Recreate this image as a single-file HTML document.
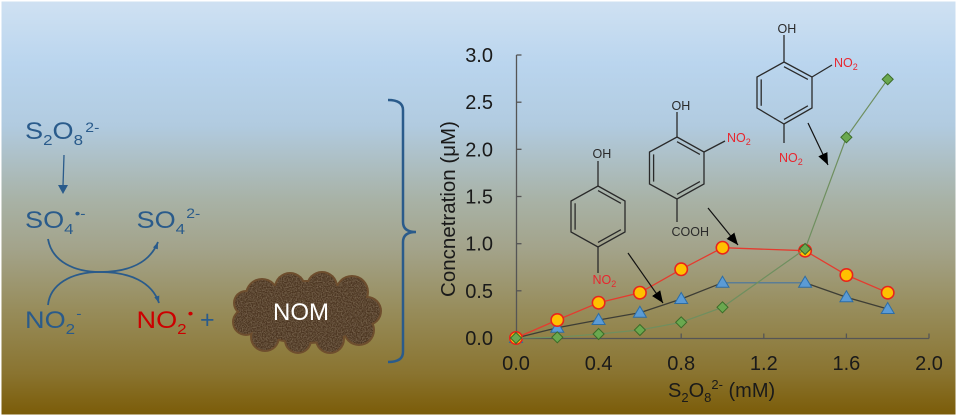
<!DOCTYPE html>
<html>
<head>
<meta charset="utf-8">
<style>
  html,body{margin:0;padding:0;background:#fff;}
  svg{display:block;}
  text{font-family:"Liberation Sans",Arial,sans-serif;}
</style>
</head>
<body>
<svg width="958" height="417" viewBox="0 0 958 417" xmlns="http://www.w3.org/2000/svg">
  <defs>
    <linearGradient id="bg" x1="0" y1="0" x2="0" y2="1">
      <stop offset="0" stop-color="#cfe1f2"/>
      <stop offset="0.15" stop-color="#bad5ee"/>
      <stop offset="0.30" stop-color="#b1cbe0"/>
      <stop offset="0.48" stop-color="#a8b2a6"/>
      <stop offset="0.60" stop-color="#a3a38a"/>
      <stop offset="0.75" stop-color="#978c5a"/>
      <stop offset="0.90" stop-color="#8a7430"/>
      <stop offset="1" stop-color="#7b5c08"/>
    </linearGradient>
    <marker id="ah" viewBox="0 0 12 10" refX="12" refY="5" markerWidth="12" markerHeight="10" markerUnits="userSpaceOnUse" orient="auto">
      <path d="M0,0 L12,5 L0,10 z" fill="#000"/>
    </marker>
    <marker id="bh" viewBox="0 0 8 6" refX="8" refY="3" markerWidth="7" markerHeight="6" markerUnits="userSpaceOnUse" orient="auto">
      <path d="M0,0 L8,3 L0,6 z" fill="#2a5b8b"/>
    </marker>
    <filter id="tex" x="0" y="0" width="100%" height="100%">
      <feTurbulence type="fractalNoise" baseFrequency="0.8" numOctaves="2" seed="3" result="n"/>
      <feColorMatrix in="n" type="matrix" values="0 0 0 0 0.45  0 0 0 0 0.33  0 0 0 0 0.20  0 0 0 0.7 -0.25" result="c"/>
      <feComposite in="c" in2="SourceGraphic" operator="in" result="t"/>
      <feMerge><feMergeNode in="SourceGraphic"/><feMergeNode in="t"/></feMerge>
    </filter>
  </defs>

  <!-- background -->
  <rect x="1.5" y="1.5" width="954" height="413" fill="url(#bg)"/>

  <!-- ===== Left reaction scheme ===== -->
  <g fill="#2a5b8b">
    <g transform="translate(25,139) scale(1.13,1)">
      <text font-size="24">S<tspan font-size="15" dy="6">2</tspan><tspan dy="-6">O</tspan><tspan font-size="15" dy="6">8</tspan><tspan font-size="14" dy="-13" dx="2">2-</tspan></text>
    </g>
    <g transform="translate(25,228) scale(1.13,1)">
      <text font-size="24">SO<tspan font-size="15" dy="6">4</tspan><tspan font-size="14" dy="-16" dx="1">•-</tspan></text>
    </g>
    <g transform="translate(136.5,228) scale(1.13,1)">
      <text font-size="24">SO<tspan font-size="15" dy="6">4</tspan><tspan font-size="14" dy="-16" dx="1">2-</tspan></text>
    </g>
    <g transform="translate(25,328) scale(1.13,1)">
      <text font-size="24">NO<tspan font-size="15" dy="6">2</tspan><tspan font-size="14" dy="-16" dx="1">-</tspan></text>
    </g>
    <g transform="translate(136.5,328) scale(1.13,1)">
      <text font-size="24" fill="#cc0000">NO<tspan font-size="15" dy="6">2</tspan><tspan font-size="14" dy="-16" dx="1">•</tspan></text>
    </g>
    <text x="200" y="328" font-size="25">+</text>
  </g>

  <line x1="64" y1="155" x2="63" y2="186" stroke="#2a5b8b" stroke-width="1.3"/>
  <polygon points="58,185 68,185 63,194" fill="#2a5b8b"/>

  <path d="M48,239 C52,262 75,272 100,272 C130,272 150,262 158,242" fill="none" stroke="#2a5b8b" stroke-width="1.8" marker-end="url(#bh)"/>
  <path d="M48,305 C50,285 70,272 100,272 C130,272 152,282 159,303" fill="none" stroke="#2a5b8b" stroke-width="1.8" marker-end="url(#bh)"/>

  <!-- NOM cloud -->
  <g fill="#6e4e2e">
    <ellipse cx="306" cy="312" rx="64" ry="32"/>
    <circle cx="262" cy="295" r="17"/>
    <circle cx="290" cy="288" r="16"/>
    <circle cx="322" cy="287" r="16"/>
    <circle cx="352" cy="292" r="17"/>
    <circle cx="367" cy="311" r="15"/>
    <circle cx="359" cy="330" r="16"/>
    <circle cx="330" cy="339" r="15"/>
    <circle cx="298" cy="340" r="14"/>
    <circle cx="265" cy="337" r="15"/>
    <circle cx="246" cy="322" r="14"/>
    <circle cx="246" cy="303" r="13"/>
  </g>
  <g fill="#4b3422" filter="url(#tex)">
    <ellipse cx="306" cy="312" rx="62" ry="30"/>
    <circle cx="262" cy="295" r="15"/>
    <circle cx="290" cy="288" r="14"/>
    <circle cx="322" cy="287" r="14"/>
    <circle cx="352" cy="292" r="15"/>
    <circle cx="367" cy="311" r="13"/>
    <circle cx="359" cy="330" r="14"/>
    <circle cx="330" cy="339" r="13"/>
    <circle cx="298" cy="340" r="12"/>
    <circle cx="265" cy="337" r="13"/>
    <circle cx="246" cy="322" r="12"/>
    <circle cx="246" cy="303" r="11"/>
  </g>
  <text x="301" y="320" font-size="24" fill="#ffffff" text-anchor="middle">NOM</text>

  <!-- brace -->
  <path d="M388,100 Q403,100 403,110 L403,222 Q403,232 416,232 Q403,232 403,242 L403,352 Q403,362 388,362" fill="none" stroke="#2a5b8b" stroke-width="2.5"/>

  <!-- ===== Chart ===== -->
  <g stroke="#555" stroke-width="1.3" fill="none">
    <line x1="516.5" y1="55" x2="516.5" y2="338.5"/>
    <line x1="516" y1="338.5" x2="929" y2="338.5"/>
    <line x1="516.5" y1="55" x2="521.5" y2="55"/>
    <line x1="516.5" y1="102.2" x2="521.5" y2="102.2"/>
    <line x1="516.5" y1="149.3" x2="521.5" y2="149.3"/>
    <line x1="516.5" y1="196.5" x2="521.5" y2="196.5"/>
    <line x1="516.5" y1="243.7" x2="521.5" y2="243.7"/>
    <line x1="516.5" y1="290.8" x2="521.5" y2="290.8"/>
    <line x1="598.6" y1="333.5" x2="598.6" y2="338.5"/>
    <line x1="681.2" y1="333.5" x2="681.2" y2="338.5"/>
    <line x1="763.8" y1="333.5" x2="763.8" y2="338.5"/>
    <line x1="846.4" y1="333.5" x2="846.4" y2="338.5"/>
    <line x1="929" y1="333.5" x2="929" y2="338.5"/>
  </g>

  <g font-size="20" fill="#1a1a1a" text-anchor="end">
    <text x="493" y="62">3.0</text>
    <text x="493" y="109.2">2.5</text>
    <text x="493" y="156.3">2.0</text>
    <text x="493" y="203.5">1.5</text>
    <text x="493" y="250.7">1.0</text>
    <text x="493" y="297.8">0.5</text>
    <text x="493" y="345">0.0</text>
  </g>
  <g font-size="20" fill="#1a1a1a" text-anchor="middle">
    <text x="516" y="370">0.0</text>
    <text x="598.6" y="370">0.4</text>
    <text x="681.2" y="370">0.8</text>
    <text x="763.8" y="370">1.2</text>
    <text x="846.4" y="370">1.6</text>
    <text x="929" y="370">2.0</text>
  </g>

  <text x="668" y="397" font-size="20" fill="#1a1a1a">S<tspan font-size="13" dy="5">2</tspan><tspan dy="-5">O</tspan><tspan font-size="13" dy="5">8</tspan><tspan font-size="13" dy="-13">2-</tspan><tspan dy="8"> (mM)</tspan></text>
  <text transform="translate(455,209) rotate(-90)" x="0" y="0" font-size="20.5" fill="#1a1a1a" text-anchor="middle">Concnetration (μM)</text>

  <!-- series: blue triangles -->
  <polyline points="516,338 557.3,327.7 598.6,320 639.9,312.7 681.2,299 722.5,282.7" fill="none" stroke="#3d3d35" stroke-width="1.3"/>
  <line x1="722.5" y1="282.7" x2="805.1" y2="282.7" stroke="#5b7d95" stroke-width="1.5"/>
  <polyline points="805.1,282.7 846.4,297.3 887.7,309" fill="none" stroke="#3d3d35" stroke-width="1.3"/>
  <g fill="#5b9bd5" stroke="#2e6da4" stroke-width="1">
    <polygon points="516,331.5 522.5,342.5 509.5,342.5"/>
    <polygon points="557.3,321.2 563.8,332.2 550.8,332.2"/>
    <polygon points="598.6,313.5 605.1,324.5 592.1,324.5"/>
    <polygon points="639.9,306.2 646.4,317.2 633.4,317.2"/>
    <polygon points="681.2,292.5 687.7,303.5 674.7,303.5"/>
    <polygon points="722.5,276.2 729,287.2 716,287.2"/>
    <polygon points="805.1,276.2 811.6,287.2 798.6,287.2"/>
    <polygon points="846.4,290.8 852.9,301.8 839.9,301.8"/>
    <polygon points="887.7,302.5 894.2,313.5 881.2,313.5"/>
  </g>

  <!-- series: red circles -->
  <polyline points="516,338 557.3,320 598.6,302.7 639.9,292.7 681.2,269.3 722.5,247.7 805.1,250.7 846.4,275 887.7,292.7" fill="none" stroke="#e53b2f" stroke-width="1.3"/>
  <g fill="#ffc000" stroke="#e8241c" stroke-width="1.6">
    <circle cx="516" cy="338" r="6.2"/>
    <circle cx="557.3" cy="320" r="6.2"/>
    <circle cx="598.6" cy="302.7" r="6.2"/>
    <circle cx="639.9" cy="292.7" r="6.2"/>
    <circle cx="681.2" cy="269.3" r="6.2"/>
    <circle cx="722.5" cy="247.7" r="6.2"/>
    <circle cx="805.1" cy="250.7" r="6.2"/>
    <circle cx="846.4" cy="275" r="6.2"/>
    <circle cx="887.7" cy="292.7" r="6.2"/>
  </g>

  <!-- series: green diamonds -->
  <polyline points="516,338 557.3,337.3 598.6,334 639.9,330 681.2,322.3 722.5,307.3 805.1,249 846.4,137.3 887.7,79.3" fill="none" stroke="#6f8f5f" stroke-width="1.2"/>
  <g fill="#6aa84f" stroke="#3b6b28" stroke-width="1">
    <polygon points="516,332.5 521.5,338 516,343.5 510.5,338"/>
    <polygon points="557.3,331.8 562.8,337.3 557.3,342.8 551.8,337.3"/>
    <polygon points="598.6,328.5 604.1,334 598.6,339.5 593.1,334"/>
    <polygon points="639.9,324.5 645.4,330 639.9,335.5 634.4,330"/>
    <polygon points="681.2,316.8 686.7,322.3 681.2,327.8 675.7,322.3"/>
    <polygon points="722.5,301.8 728,307.3 722.5,312.8 717,307.3"/>
    <polygon points="805.1,243.5 810.6,249 805.1,254.5 799.6,249"/>
    <polygon points="846.4,131.8 851.9,137.3 846.4,142.8 840.9,137.3"/>
    <polygon points="887.7,73.8 893.2,79.3 887.7,84.8 882.2,79.3"/>
  </g>

  <!-- ===== Molecules ===== -->
  <g stroke="#2a2a2a" stroke-width="1.3" fill="none">
    <polygon points="598,186 625,201 625,232 598,247 571,232 571,201"/>
    <line x1="598" y1="190.6" x2="620.9" y2="203.3"/>
    <line x1="620.9" y1="229.7" x2="598" y2="242.4"/>
    <line x1="575.1" y1="229.7" x2="575.1" y2="203.3"/>
    <line x1="598" y1="161" x2="598" y2="186"/>
    <line x1="598" y1="247" x2="598" y2="273"/>

    <polygon points="677,137 704,152 704,184 677,199 649.5,184 649.5,152"/>
    <line x1="677" y1="141.7" x2="699.9" y2="154.4"/>
    <line x1="699.9" y1="181.6" x2="677" y2="194.3"/>
    <line x1="653.6" y1="181.6" x2="653.6" y2="154.4"/>
    <line x1="677" y1="112" x2="677" y2="137"/>
    <line x1="704" y1="152" x2="725" y2="141"/>
    <line x1="677" y1="199" x2="677" y2="222"/>

    <polygon points="784,62 812,77 812,108 784,124 757,108 757,77"/>
    <line x1="784" y1="66.7" x2="807.9" y2="79.4"/>
    <line x1="807.9" y1="105.8" x2="784" y2="119.4"/>
    <line x1="761.2" y1="105.8" x2="761.2" y2="79.4"/>
    <line x1="784" y1="35" x2="784" y2="62"/>
    <line x1="812" y1="77" x2="832" y2="65"/>
    <line x1="784" y1="124" x2="784" y2="143"/>
  </g>
  <g font-size="12.5" fill="#2a2a2a">
    <text x="592.5" y="158">OH</text>
    <text x="671.5" y="110">OH</text>
    <text x="671.5" y="236">COOH</text>
    <text x="777.5" y="33">OH</text>
  </g>
  <g font-size="12.5" fill="#e8262e">
    <text x="592.5" y="284">NO<tspan font-size="9" dy="3">2</tspan></text>
    <text x="727" y="142">NO<tspan font-size="9" dy="3">2</tspan></text>
    <text x="834" y="67">NO<tspan font-size="9" dy="3">2</tspan></text>
    <text x="779" y="162">NO<tspan font-size="9" dy="3">2</tspan></text>
  </g>

  <!-- pointer arrows -->
  <g stroke="#111" stroke-width="1.2">
    <line x1="628" y1="253" x2="663" y2="303" marker-end="url(#ah)"/>
    <line x1="708" y1="208" x2="738" y2="245" marker-end="url(#ah)"/>
    <line x1="808" y1="123" x2="828" y2="165" marker-end="url(#ah)"/>
  </g>
</svg>
</body>
</html>
